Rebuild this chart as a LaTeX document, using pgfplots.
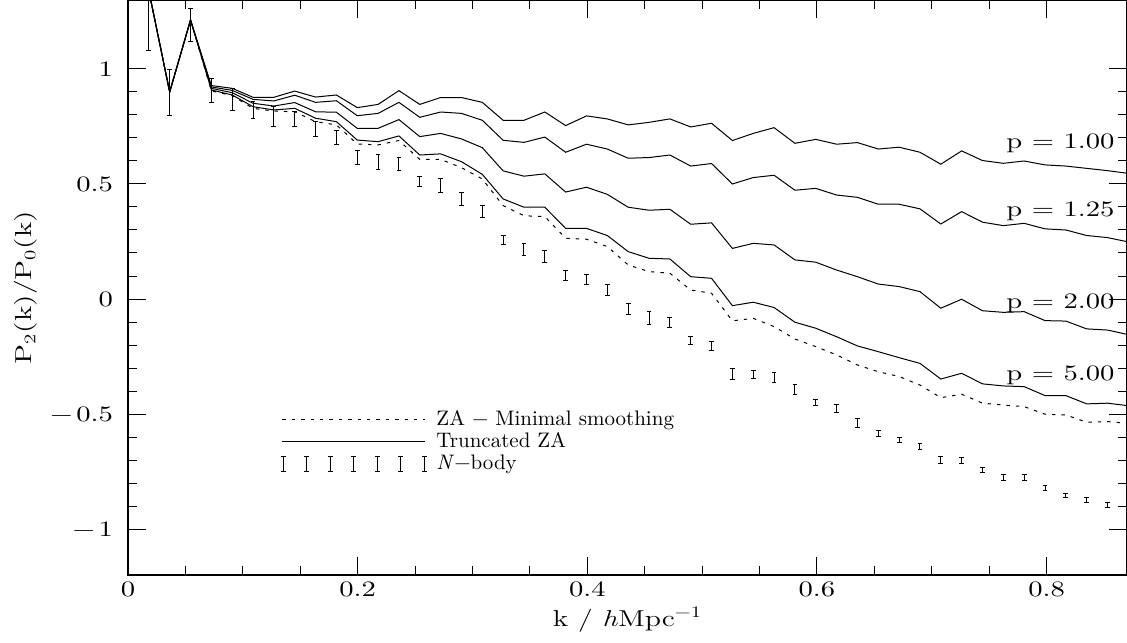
\documentclass[border=0pt]{standalone}
\usepackage{fontspec}
\usepackage{pgfplots}
\pgfplotsset{compat=1.18}
\usepackage{pgfplotstable}
\newfontfamily\hfont{lmroman10-regular}[Extension=.otf, ItalicFont=lmroman10-italic, FakeStretch=1.3]
\newfontfamily\lfont{lmroman12-regular}[Extension=.otf, ItalicFont=lmroman12-italic, FakeStretch=1.3]

\pgfplotstableread{
k p1 p125 p2 p5 za
0.01815 1.34 1.34 1.34 1.34 1.34
0.0363 0.900 0.900 0.900 0.900 0.900
0.05445 1.213 1.213 1.213 1.213 1.213
0.0726 0.928 0.922 0.916 0.909 0.905
0.09075 0.916 0.907 0.897 0.887 0.884
0.1089 0.877 0.868 0.851 0.836 0.829
0.12705 0.877 0.861 0.839 0.822 0.817
0.1452 0.904 0.886 0.854 0.829 0.814
0.16335 0.878 0.855 0.814 0.786 0.771
0.1815 0.887 0.862 0.812 0.771 0.757
0.19965 0.832 0.797 0.742 0.691 0.674
0.2178 0.846 0.807 0.742 0.684 0.670
0.23595 0.906 0.855 0.780 0.709 0.689
0.2541 0.846 0.790 0.706 0.626 0.607
0.27225 0.876 0.813 0.720 0.631 0.607
0.2904 0.876 0.807 0.696 0.597 0.571
0.30855 0.855 0.777 0.658 0.542 0.522
0.3267 0.777 0.690 0.557 0.435 0.406
0.34485 0.777 0.681 0.534 0.399 0.362
0.363 0.813 0.704 0.544 0.399 0.358
0.38115 0.754 0.638 0.465 0.307 0.264
0.3993 0.796 0.673 0.486 0.307 0.260
0.41745 0.783 0.652 0.455 0.276 0.228
0.4356 0.757 0.612 0.399 0.206 0.148
0.45375 0.768 0.615 0.386 0.177 0.119
0.4719 0.783 0.626 0.390 0.174 0.112
0.49005 0.748 0.578 0.325 0.097 0.039
0.5082 0.764 0.589 0.331 0.090 0.025
0.52635 0.689 0.500 0.220 -0.029 -0.095
0.5445 0.720 0.528 0.242 -0.014 -0.084
0.56265 0.745 0.538 0.235 -0.037 -0.120
0.5808 0.677 0.473 0.170 -0.101 -0.174
0.59895 0.694 0.481 0.160 -0.127 -0.207
0.6171 0.673 0.452 0.126 -0.164 -0.243
0.63525 0.680 0.442 0.097 -0.204 -0.287
0.6534 0.652 0.412 0.065 -0.229 -0.316
0.67155 0.660 0.412 0.054 -0.255 -0.337
0.6897 0.638 0.392 0.032 -0.280 -0.374
0.70785 0.586 0.326 -0.040 -0.348 -0.429
0.726 0.644 0.380 -0.001 -0.323 -0.414
0.74415 0.602 0.334 -0.051 -0.369 -0.453
0.7623 0.590 0.319 -0.058 -0.378 -0.461
0.78045 0.600 0.329 -0.055 -0.381 -0.468
0.7986 0.583 0.305 -0.094 -0.420 -0.501
0.81675 0.578 0.300 -0.096 -0.420 -0.504
0.8349 0.568 0.276 -0.130 -0.456 -0.536
0.85305 0.558 0.267 -0.135 -0.453 -0.533
0.8712 0.546 0.248 -0.155 -0.464 -0.541
}\linedata

\pgfplotstableread{
k nb e
0.01815 1.32 0.24
0.0363 0.897 0.099
0.05445 1.19 0.072
0.0726 0.907 0.052
0.09075 0.867 0.048
0.1089 0.822 0.036
0.12705 0.793 0.043
0.1452 0.783 0.033
0.16335 0.739 0.033
0.1815 0.701 0.031
0.19965 0.616 0.030
0.2178 0.594 0.033
0.23595 0.587 0.028
0.2541 0.510 0.022
0.27225 0.492 0.031
0.2904 0.435 0.029
0.30855 0.380 0.026
0.3267 0.255 0.020
0.34485 0.216 0.027
0.363 0.184 0.026
0.38115 0.103 0.023
0.3993 0.084 0.023
0.41745 0.038 0.024
0.4356 -0.043 0.025
0.45375 -0.084 0.029
0.4719 -0.101 0.022
0.49005 -0.181 0.018
0.5082 -0.204 0.020
0.52635 -0.326 0.022
0.5445 -0.330 0.017
0.56265 -0.340 0.022
0.5808 -0.395 0.022
0.59895 -0.449 0.014
0.6171 -0.475 0.017
0.63525 -0.540 0.019
0.6534 -0.584 0.014
0.67155 -0.614 0.012
0.6897 -0.642 0.014
0.70785 -0.700 0.014
0.726 -0.701 0.013
0.74415 -0.743 0.011
0.7623 -0.778 0.013
0.78045 -0.777 0.014
0.7986 -0.823 0.011
0.81675 -0.855 0.009
0.8349 -0.874 0.010
0.85305 -0.895 0.010
}\nbdata

\begin{document}
\begin{tikzpicture}
\begin{axis}[
  scale only axis,
  width=499.5pt, height=287.5pt,
  xmin=0, xmax=0.87, ymin=-1.2, ymax=1.3,
  axis line style={line width=0.6pt},
  tick style={black, line width=0.5pt},
  major tick length=9pt, minor tick length=4.5pt,
  xtick={0,0.2,0.4,0.6,0.8},
  xticklabels={0,0.2,0.4,0.6,0.8},
  ytick={-1,-0.5,0,0.5,1},
  yticklabels={−\,1,−\,0.5,0,0.5,1},
  minor x tick num=3, minor y tick num=4,
  ticklabel style={font=\hfont\fontsize{11}{13}\selectfont},
  yticklabel style={xshift=-4pt},
  every axis x label/.style={at={(axis description cs:0.5,-0.078)}, anchor=center, font=\lfont\fontsize{11.5}{14}\selectfont},
  every axis y label/.style={at={(axis description cs:-0.102,0.5)}, rotate=90, anchor=center, font=\lfont\fontsize{11.5}{14}\selectfont},
  xlabel={k / \textit{h}Mpc\textsuperscript{−1}},
  ylabel={P\textsubscript{2}(k)/P\textsubscript{0}(k)},
  legend style={draw=none, fill=none, at={(rel axis cs:0.146,0.300)}, anchor=north west,
    font=\fontsize{10.5}{12}\selectfont, row sep=-2pt, nodes={inner sep=2pt}},
  legend cell align=left,
]
\addplot[black, line width=0.5pt, forget plot] table[x=k, y=p1] {\linedata};
\addplot[black, line width=0.5pt, forget plot] table[x=k, y=p125] {\linedata};
\addplot[black, line width=0.5pt, forget plot] table[x=k, y=p2] {\linedata};
\addplot[black, line width=0.5pt, forget plot] table[x=k, y=p5] {\linedata};
\addplot[black, line width=0.5pt, dash pattern=on 1.7pt off 3pt, forget plot] table[x=k, y=za] {\linedata};
\addplot[draw=none, mark=none, forget plot,
  error bars/.cd, y dir=both, y explicit,
  error bar style={draw=black, line width=0.5pt},
  error mark options={rotate=90, draw=black, mark size=1.2pt, line width=0.5pt}]
  table[x=k, y=nb, y error=e] {\nbdata};

\addlegendimage{legend image code/.code={\draw[black, line width=0.5pt, dash pattern=on 1.7pt off 3pt] (0pt,0pt) -- (71.5pt,0pt);}}
\addlegendentry{\hspace{2.5pt}ZA − Minimal smoothing}
\addlegendimage{legend image code/.code={\draw[black, line width=0.5pt] (0pt,0pt) -- (71.5pt,0pt);}}
\addlegendentry{\hspace{2.5pt}Truncated ZA}
\addlegendimage{legend image code/.code={\foreach \j in {0,...,6}{\draw[black, line width=0.5pt] (\j*11.75pt+0.5pt,-3.8pt) -- (\j*11.75pt+0.5pt,3.8pt) (\j*11.75pt-0.8pt,-3.8pt) -- (\j*11.75pt+1.8pt,-3.8pt) (\j*11.75pt-0.8pt,3.8pt) -- (\j*11.75pt+1.8pt,3.8pt);}}}
\addlegendentry{\hspace{2.5pt}\textit{N}−body}

\node[anchor=east, inner sep=0pt, font=\hfont\fontsize{11}{13}\selectfont] at (axis cs:0.8594,0.677) {p = 1.00};
\node[anchor=east, inner sep=0pt, font=\hfont\fontsize{11}{13}\selectfont] at (axis cs:0.8594,0.381) {p = 1.25};
\node[anchor=east, inner sep=0pt, font=\hfont\fontsize{11}{13}\selectfont] at (axis cs:0.8594,-0.018) {p = 2.00};
\node[anchor=east, inner sep=0pt, font=\hfont\fontsize{11}{13}\selectfont] at (axis cs:0.8594,-0.332) {p = 5.00};
\end{axis}
\pgfresetboundingbox
\path[use as bounding box] ([xshift=-64pt,yshift=-33.5pt]current axis.south west) rectangle (current axis.north east);
\end{tikzpicture}
\end{document}
